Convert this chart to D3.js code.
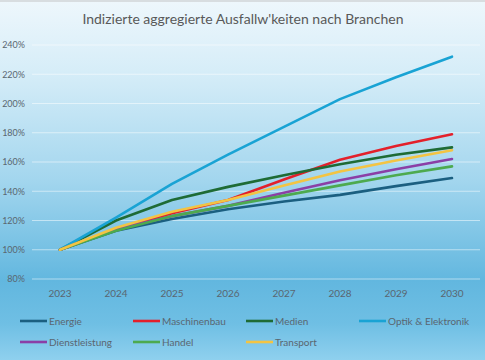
<!DOCTYPE html>
<html><head><meta charset="utf-8">
<script src="https://cdn.jsdelivr.net/npm/d3@7"></script>
<style>html,body{margin:0;padding:0;overflow:hidden}svg{display:block}</style>
</head><body>
<script>
const years = ["2023","2024","2025","2026","2027","2028","2029","2030"];
const seriesNames = ["Energie","Maschinenbau","Medien","Optik & Elektronik","Dienstleistung","Handel","Transport"];
const energie        = [100,113,121,127.7,133,137.5,143.5,149];
const maschinenbau   = [100,114,125,134,148,161.5,171,179];
const medien         = [100,120,134,143,151,158.5,165,170];
const optik          = [100,122,145,165,184,203,218,232];
const dienstleistung = [100,114,123,130,139,147.5,155,162];
const handel         = [100,113,123,130,137,144,151,157];
const transport      = [100,115,126,134,144,153.5,161,168];
const yTicks = [0.8,1.0,1.2,1.4,1.6,1.8,2.0,2.2,2.4];
const colors = ["#1b5f80","#e3202b","#1e6b35","#19a3d4","#8b3fa6","#4daa4f","#f3c443"];

const series = seriesNames.map((n,i)=>({name:n,color:colors[i],
  values:[energie,maschinenbau,medien,optik,dienstleistung,handel,transport][i]}));

const W=485,H=360;
const svg=d3.select("body").append("svg").attr("width",W).attr("height",H);
const defs=svg.append("defs");
const g=defs.append("linearGradient").attr("id","bg").attr("x1",0).attr("y1",0).attr("x2",0).attr("y2",1);
[[0,"#eef7fc"],[0.2,"#d6edf8"],[0.5,"#a3d6ee"],[0.78,"#62b7df"],[0.9,"#6fbfe4"],[1,"#8fd0ee"]]
  .forEach(([o,c])=>g.append("stop").attr("offset",o).attr("stop-color",c));
svg.append("rect").attr("width",W).attr("height",H).attr("fill","url(#bg)");
svg.append("rect").attr("x",0).attr("y",0).attr("width",W).attr("height",2).attr("fill","#d8dde0");

const x=d3.scaleBand().domain(years).range([32,480]);
const y=d3.scaleLinear().domain([0.8,2.4]).range([279,45]);
const font="Lato, 'Open Sans', sans-serif";

// gridlines
svg.append("g").selectAll("line").data(yTicks).join("line")
  .attr("x1",32).attr("x2",480).attr("y1",d=>y(d)).attr("y2",d=>y(d))
  .attr("stroke","#ffffff").attr("stroke-opacity",0.5).attr("stroke-width",1);

// y axis
const yAx=svg.append("g").attr("transform","translate(25,0)")
  .call(d3.axisLeft(y).tickValues(yTicks).tickFormat(d3.format(".0%")).tickSize(0).tickPadding(0));
yAx.select(".domain").remove();
yAx.selectAll("text").attr("font-family",font).attr("font-size",9).attr("fill","#5a6670");

// x axis
const xAx=svg.append("g").attr("transform","translate(0,290)")
  .call(d3.axisBottom(x).tickSize(0).tickPadding(0));
xAx.select(".domain").remove();
xAx.selectAll("text").attr("font-family",font).attr("font-size",10).attr("fill","#5a6670");

// lines
const line=d3.line().x((d,i)=>x(years[i])+x.bandwidth()/2).y(d=>y(d/100));
svg.append("g").selectAll("path").data(series).join("path")
  .attr("d",d=>line(d.values)).attr("fill","none").attr("stroke",d=>d.color)
  .attr("stroke-width",2.6).attr("stroke-linejoin","round").attr("stroke-linecap","round");

// title
svg.append("text").attr("x",243).attr("y",24).attr("text-anchor","middle")
  .attr("font-family",font).attr("font-size",14).attr("fill","#595959")
  .text("Indizierte aggregierte Ausfallw'keiten nach Branchen");

// legend
const legX=[20,133,246,359];
const leg=svg.append("g").selectAll("g").data(series).join("g")
  .attr("transform",(d,i)=>`translate(${legX[i%4]},${i<4?321:342})`);
leg.append("line").attr("x1",0).attr("x2",27).attr("y1",0).attr("y2",0)
  .attr("stroke",d=>d.color).attr("stroke-width",2.6);
leg.append("text").attr("x",29).attr("y",4).attr("font-family",font).attr("font-size",10)
  .attr("fill","#5a6670").text(d=>d.name);
</script>
</body></html>
